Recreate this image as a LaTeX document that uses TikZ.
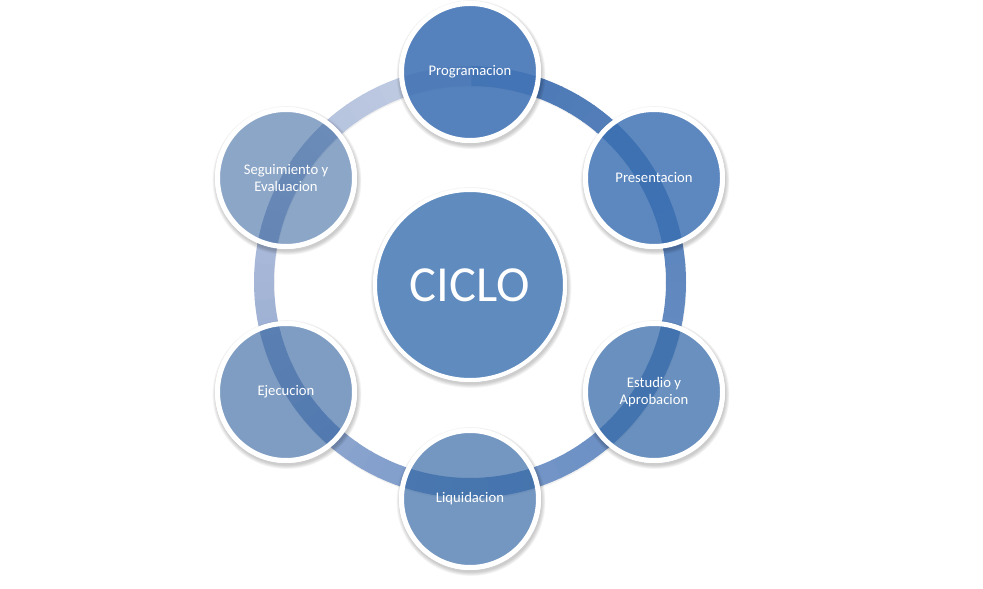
\documentclass[tikz,border=0pt]{standalone}
\usepackage{fontspec}
\setmainfont{Carlito}
\definecolor{rA}{RGB}{72,118,180}
\definecolor{rB}{RGB}{97,137,192}
\definecolor{rC}{RGB}{120,152,201}
\definecolor{rD}{RGB}{166,182,215}
\definecolor{rE}{RGB}{198,208,228}
\definecolor{cProg}{RGB}{67,116,181}
\definecolor{cPres}{RGB}{57,110,177}
\definecolor{cEst}{RGB}{55,107,168}
\definecolor{cLiq}{RGB}{49,101,162}
\definecolor{cEje}{RGB}{49,97,158}
\definecolor{cSeg}{RGB}{46,93,153}
\definecolor{hubc}{RGB}{95,139,191}
\tikzset{
  bubble/.style={circle, draw=white, line width=5pt, minimum size=137pt, inner sep=0pt,
    text=white, text opacity=1, draw opacity=1, align=center,
    font=\fontsize{14.67}{16.5}\selectfont},
  hub/.style={circle, draw=white, line width=4pt, minimum size=190pt, inner sep=0pt,
    fill=hubc, text=white, font=\fontsize{50.5}{56}\selectfont},
  ringseg/.style={line width=20pt, line cap=butt}
}
\newcommand\mkshadow[3]{%
  \begin{scope}[even odd rule]
    \clip (-10,-10) rectangle (1000,600) (#1,#2) circle (#3);
    \foreach \k in {0,...,5}{%
      \fill[black, opacity=0.035] (#1+1,#2-2.5) circle ({#3+\k*0.7});
    }
  \end{scope}}
\begin{document}
\begin{tikzpicture}[x=1pt,y=1pt]
\useasboundingbox (0,0) rectangle (983,589);
% ring shadow
\draw[line width=20pt, black, opacity=0.06] (470.5,305.5) circle (206);
% ring with angular gradient (clockwise from top)
\foreach \q/\ca/\cb in {0/rA/rB,1/rB/rC,2/rC/rD,3/rD/rE}{%
  \foreach \i in {0,...,17}{%
    \pgfmathsetmacro\a{90-\q*90-\i*5}
    \pgfmathtruncatemacro\p{100-\i*100/18}
    \draw[ringseg, draw=\ca!\p!\cb] ([shift={(470,307)}]\a:206) arc[start angle=\a, end angle=\a-5.4, radius=206];
  }
}
% shadows of the circles
\mkshadow{470}{304}{97}
\mkshadow{470}{517}{71}
\mkshadow{654}{411}{71}
\mkshadow{654}{197}{71}
\mkshadow{470}{90}{71}
\mkshadow{286}{197}{71}
\mkshadow{286}{411}{71}
% nodes
\node[hub] (ciclo) at (470,304) {CICLO};
\node[bubble, fill=cProg, fill opacity=0.9] (prog) at (470,517) {Programacion};
\node[bubble, fill=cPres, fill opacity=0.82] (pres) at (654,411) {Presentacion};
\node[bubble, fill=cEst, fill opacity=0.75] (est) at (654,197) {Estudio y\\Aprobacion};
\node[bubble, fill=cLiq, fill opacity=0.68] (liq) at (470,90) {Liquidacion};
\node[bubble, fill=cEje, fill opacity=0.62] (eje) at (286,197) {Ejecucion};
\node[bubble, fill=cSeg, fill opacity=0.55] (seg) at (286,411) {Seguimiento y\\Evaluacion};
\end{tikzpicture}
\end{document}
